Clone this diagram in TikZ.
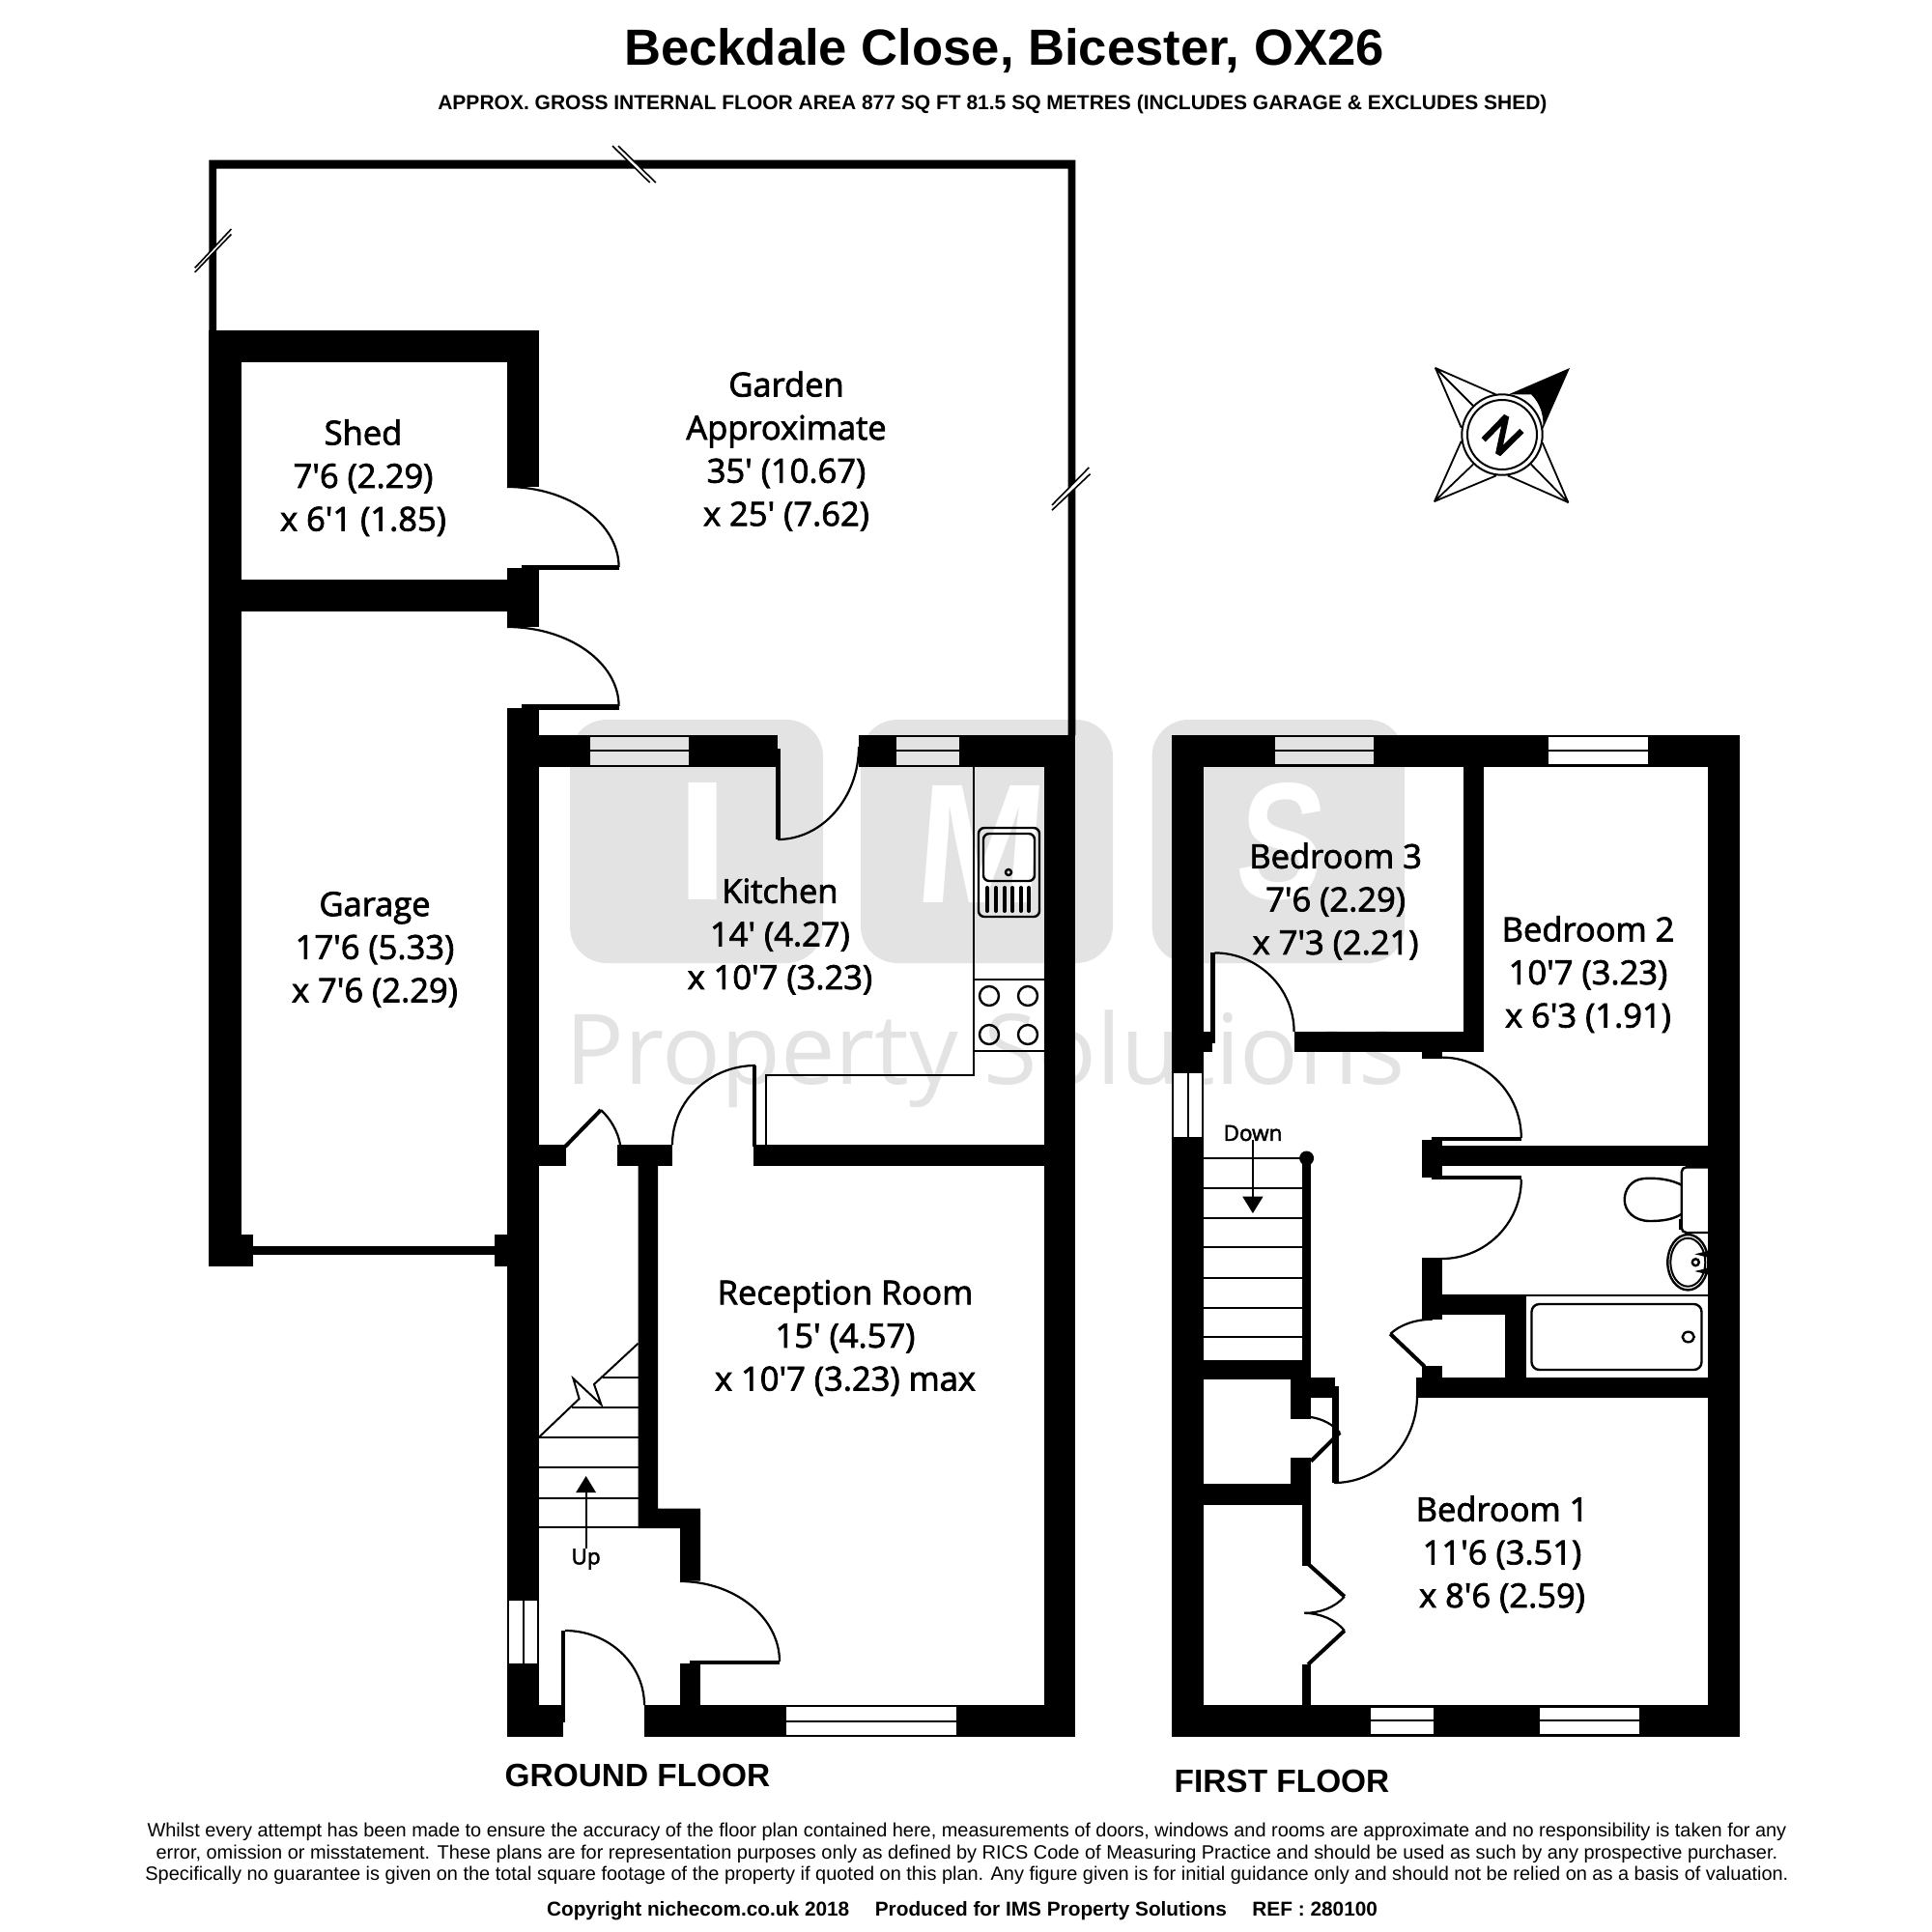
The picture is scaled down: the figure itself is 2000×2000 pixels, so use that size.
\documentclass[tikz,border=0pt]{standalone}
\usepackage{fontspec}
\setmainfont{Liberation Sans}
\newfontfamily\roomfont[FakeBold=2.2]{Open Sans}
\newfontfamily\markfont{Open Sans}
\newfontfamily\logoifont[FakeStretch=1.15]{Liberation Sans}
\newfontfamily\logomfont[FakeStretch=0.9,FakeSlant=0.08]{Liberation Sans}
\newfontfamily\logosfont[FakeStretch=0.78,FakeSlant=0.1]{Liberation Sans}
\newcommand{\swing}[4]{\draw[doorline] (#1,#2) .. controls (#1,{#2+0.55*(#4-#2)}) and ({#3+0.55*(#1-#3)},#4) .. (#3,#4);}
\definecolor{waterlogo}{HTML}{E3E3E3}
\tikzset{
    wall/.style={fill=black},
    doorline/.style={draw=black, line width=2.2pt},
    thinline/.style={draw=black, line width=2pt},
    unitline/.style={draw=black, line width=2.4pt},
    breakline/.style={draw=black, line width=1.6pt},
    compassline/.style={draw=black, line width=1.8pt, line join=round},
    roomlabel/.style={font=\roomfont\fontsize{34.5}{44.6}\selectfont, align=center, inner sep=0pt},
    smalllabel/.style={font=\roomfont\fontsize{22.5}{26}\selectfont, inner sep=0pt},
    floorlabel/.style={font=\bfseries\fontsize{33.4}{40}\selectfont, inner sep=0pt},
    logoblock/.style={fill=waterlogo, rounded corners=38pt},
    logoletter/.style={text=white, anchor=base, inner sep=0pt}
}
\begin{document}
\begin{tikzpicture}[x=1pt, y=-1pt]
    \useasboundingbox (0,0) rectangle (2000,2000);

    \fill[logoblock] (590,745) rectangle (852,997);
    \fill[logoblock] (891,745) rectangle (1152,997);
    \fill[logoblock] (1192.6,745) rectangle (1454,997);
    \node[logoletter, font=\logoifont\bfseries\fontsize{176}{176}\selectfont] (logoi) at (727.5,931) {I};
    \node[logoletter, font=\logomfont\bfseries\fontsize{176}{176}\selectfont] (logom) at (1011,934) {M};
    \node[logoletter, font=\logosfont\bfseries\fontsize{172}{172}\selectfont] (logos) at (1321,930) {S};
    \node[text=waterlogo, anchor=base west, inner sep=0pt, font=\markfont\fontsize{101}{101}\selectfont] (logotext) at (585,1122) {Property Solutions};

    \node[font=\bfseries\fontsize{52.6}{60}\selectfont, inner sep=0pt] (title) at (1039.5,52.5) {Beckdale Close, Bicester, OX26};
    \node[font=\bfseries\fontsize{21}{25}\selectfont, inner sep=0pt] (subtitle) at (1027.4,108) {APPROX. GROSS INTERNAL FLOOR AREA 877 SQ FT 81.5 SQ METRES (INCLUDES GARAGE \& EXCLUDES SHED)};

    \fill[wall] (216.4,165.7) -- (1113.3,165.7) -- (1113.3,761) -- (1105.5,761) -- (1105.5,174.6) -- (224.2,174.6) -- (224.2,342) -- (216.4,342) -- cycle;

    \fill[wall] (216.4,342) rectangle (557.6,374.6);
    \fill[wall] (216.4,342) rectangle (249.5,1311);
    \fill[wall] (525,374.6) rectangle (557.6,504);
    \fill[wall] (216.4,600) rectangle (525,633);
    \fill[wall] (525,587.6) rectangle (557.6,649);
    \fill[wall] (540,584.5) rectangle (640.6,590);
    \fill[wall] (540,729) rectangle (640.6,735);
    \swing{640.6}{587}{525}{504}
    \swing{640.6}{731}{525}{649}

    \fill[wall] (249,1277.7) rectangle (262.3,1311);
    \fill[wall] (262,1290) rectangle (513,1299.3);
    \fill[wall] (512.3,1277.7) rectangle (525,1311);

    \fill[wall] (525,733) rectangle (558,1798);
    \fill[wall] (558,761) rectangle (805,794);
    \fill[wall] (889,761) rectangle (1113.3,794);
    \fill[wall] (1080.5,761) rectangle (1113.3,1798);
    \fill[wall] (525,1765) rectangle (583,1798);
    \fill[wall] (667,1765) rectangle (1113.3,1798);
    \fill[wall] (558,1185) rectangle (586,1207);
    \fill[wall] (639,1185) rectangle (696,1207);
    \fill[wall] (780,1185) rectangle (1080.5,1207);
    \fill[wall] (660.6,1207) -- (681,1207) -- (681,1561.7) -- (725,1561.7) -- (725,1636.7) -- (704,1636.7) -- (704,1582) -- (660.6,1582) -- cycle;
    \fill[wall] (704,1721.7) rectangle (725,1765);

    \fill[wall] (803,775) rectangle (808,869);
    \swing{889}{773}{805}{869}
    \fill[wall] (779,1103) rectangle (783,1187);
    \swing{696}{1185}{782}{1103}
    \fill[wall] (713.7,1719) rectangle (807,1723);
    \swing{807}{1720}{704}{1637}
    \fill[wall] (581,1688) rectangle (585,1783);
    \swing{667}{1765}{585}{1688}
    \draw[line width=4pt, draw=black] (585,1187) -- (622,1149);
    \draw[doorline] (622,1149) .. controls (632,1158) and (640,1172) .. (642,1185);

    \draw[thinline] (1008,794) -- (1008,1112.7) -- (792.5,1112.7) -- (792.5,1185);
    \draw[thinline] (1008,1014) -- (1080.5,1014);
    \draw[thinline] (1008,1088) -- (1080.5,1088);
    \foreach \ringx in {1024,1064}
        \foreach \ringy in {1031,1071}
            \draw[unitline] (\ringx,\ringy) circle (10);
    \draw[unitline, rounded corners=6pt] (1013,857) rectangle (1076,949);
    \draw[unitline, rounded corners=6pt] (1018,863) rectangle (1071,912);
    \draw[unitline] (1044,903) circle (3);
    \foreach \barx in {1022,1031,1040,1048,1057,1065}
        \draw[line width=4pt, line cap=round] (\barx,919) -- (\barx,943);

    \foreach \xa/\ya/\xb/\yb/\ym/\pane in {611/762.7/713/791.7/777.3/waterlogo, 928/762.7/993/791.7/777.3/waterlogo, 814/1767/990/1796/1781.7/white} {
        \fill[\pane] (\xa,\ya) rectangle (\xb,\yb);
        \fill[black] (\xa,\ym-1) rectangle (\xb,\ym+1);
    }
    \fill[white] (527,1656.7) rectangle (556,1721.7);
    \fill[black] (540.5,1656.7) rectangle (542.5,1721.7);

    \foreach \stepy in {1488,1519,1551,1581}
        \draw[thinline] (558,\stepy) -- (660.6,\stepy);
    \draw[thinline] (592,1456.7) -- (660.6,1456.7);
    \draw[thinline] (624,1425.7) -- (660.6,1425.7);
    \draw[thinline] (558,1487.7) -- (599.6,1448) -- (593.4,1427) -- (622.4,1454) -- (615,1433) -- (660.6,1390.7);
    \draw[thinline] (606.6,1603) -- (606.6,1545);
    \fill[black] (606.6,1528) -- (617,1545) -- (596.2,1545) -- cycle;
    \node[smalllabel] (uplabel) at (606.6,1614) {Up};

    \fill[wall] (1212.7,760.7) rectangle (1801,794);
    \fill[wall] (1212.7,1765) rectangle (1801,1797.6);
    \fill[wall] (1212.7,760.7) rectangle (1246,1797.6);
    \fill[wall] (1767.8,760.7) rectangle (1801,1797.6);
    \foreach \xa/\ya/\xb/\yb/\ym/\pane in {1320/763/1422/791.4/777/waterlogo, 1603.3/763/1706/791.4/777/white, 1418.7/1767.8/1484/1795/1781/white, 1594.2/1767.8/1697/1795/1781/white} {
        \fill[\pane] (\xa,\ya) rectangle (\xb,\yb);
        \fill[black] (\xa,\ym-1) rectangle (\xb,\ym+1);
    }
    \fill[white] (1215,1111.4) rectangle (1243.5,1176.8);
    \fill[black] (1228.7,1111.4) rectangle (1230.7,1176.8);

    \fill[wall] (1515,794) rectangle (1536,1089.3);
    \fill[wall] (1339.6,1068) rectangle (1536,1089.3);
    \fill[wall] (1246,1068) rectangle (1255.4,1089.3);
    \fill[wall] (1472,1089) rectangle (1492.6,1095.7);
    \fill[wall] (1492.6,1185.7) rectangle (1767.8,1207);
    \fill[wall] (1472,1179.6) rectangle (1492.6,1218.6);
    \fill[wall] (1472,1302.4) rectangle (1492.6,1365.7);
    \fill[wall] (1492.6,1340) rectangle (1579.6,1360.8);
    \fill[wall] (1557.8,1340) rectangle (1579.6,1426);
    \fill[wall] (1472,1414) rectangle (1492.6,1426);
    \fill[wall] (1465.7,1426) rectangle (1767.8,1447);
    \fill[wall] (1246,1407.8) rectangle (1357,1427.8);
    \fill[wall] (1336.4,1427.8) rectangle (1357,1468.6);
    \fill[wall] (1348.3,1199) rectangle (1357,1427.8);
    \fill[wall] (1357,1426) rectangle (1382,1447.3);
    \fill[wall] (1336.4,1508.6) rectangle (1357,1536.3);
    \fill[wall] (1246,1536.3) rectangle (1357,1557.6);
    \fill[wall] (1348.3,1557.6) rectangle (1357,1620.8);
    \fill[wall] (1348.3,1723) rectangle (1357,1765);

    \fill[wall] (1253.4,986.4) rectangle (1258,1080);
    \swing{1339.6}{1068}{1257.3}{986.4}
    \fill[wall] (1481.5,1176.8) rectangle (1574.8,1181.4);
    \swing{1574.8}{1178}{1492.6}{1094.6}
    \fill[wall] (1481.5,1217) rectangle (1574.8,1221.4);
    \swing{1574.8}{1221}{1492.6}{1303}
    \fill[wall] (1379,1435) rectangle (1385.8,1535);
    \swing{1467}{1445}{1381}{1535}

    \draw[line width=4pt] (1474.8,1414.7) -- (1439.2,1380.8);
    \draw[doorline] (1439.2,1380.8) .. controls (1450,1371) and (1465,1366) .. (1482.7,1365.7);
    \draw[doorline] (1357,1467) .. controls (1370,1469) and (1380,1475) .. (1387,1482.9);
    \draw[line width=4pt] (1387,1482.9) -- (1357,1512.7);
    \draw[line width=4pt] (1354,1618.8) -- (1391.8,1652.7);
    \draw[doorline] (1391.8,1652.7) .. controls (1382,1664) and (1366,1670) .. (1350.3,1669.8);
    \draw[doorline] (1350.3,1669.8) .. controls (1366,1670) and (1382,1676) .. (1391.8,1688);
    \draw[line width=4pt] (1391.8,1688) -- (1354,1723);

    \foreach \stepy in {1199,1230,1261,1291,1323,1353.5,1384}
        \draw[thinline] (1246,\stepy) -- (1348.3,\stepy);
    \fill[black] (1352.6,1199) circle (7.5);
    \draw[thinline] (1296.9,1180) -- (1296.9,1239);
    \fill[black] (1296.9,1256) -- (1286.2,1238.6) -- (1307.6,1238.6) -- cycle;
    \node[smalllabel] (downlabel) at (1297,1173) {Down};

    \draw[thinline] (1579.6,1341) -- (1767.8,1341);
    \draw[unitline, rounded corners=8pt] (1585.5,1350) rectangle (1761.5,1418);
    \draw[unitline] (1747.7,1384) ellipse (6 and 5.3);
    \draw[unitline, rounded corners=5pt] (1767.8,1208.3) -- (1740.7,1208.3) -- (1740.7,1276) -- (1767.8,1276);
    \draw[unitline] (1740.7,1226.7) .. controls (1730,1221) and (1715,1219) .. (1702,1220) .. controls (1688,1221) and (1681.7,1232) .. (1681.7,1242) .. controls (1681.7,1254) and (1692,1264) .. (1708,1264) .. controls (1722,1264) and (1733,1262) .. (1740.7,1256.7);
    \draw[unitline] (1739,1262) -- (1739,1273);
    \begin{scope}
        \clip (1700,1270) rectangle (1767.8,1340);
        \draw[unitline] (1747.3,1306.7) ellipse (21 and 28.7);
        \draw[thinline] (1747.3,1306.7) ellipse (18 and 25);
    \end{scope}
    \draw[unitline] (1755.3,1306.7) circle (3.5);
    \fill[black] (1754.3,1298.3) -- (1767.8,1295) -- (1767.8,1301.5) -- cycle;
    \fill[black] (1754.3,1316) -- (1767.8,1312.7) -- (1767.8,1319.3) -- cycle;

    \fill[black] (1561.7,408.3) -- (1625,381) -- (1596.7,445) arc[start angle=10, end angle=-45, radius=41.7] -- cycle;
    \draw[thinline] (1555,450) circle (41.7);
    \draw[thinline] (1555,450) circle (36);
    \draw[compassline] (1548.3,408.3) -- (1486,381) -- (1525,420);
    \draw[compassline] (1486,381) -- (1512.7,442.7);
    \draw[compassline] (1512.7,456.7) -- (1485,519) -- (1525,480.7);
    \draw[compassline] (1485,519) -- (1549,492.3);
    \draw[compassline] (1596.7,458.3) -- (1623.3,520) -- (1585,480.7);
    \draw[compassline] (1623.3,520) -- (1560.7,492.3);
    \draw[line width=6pt, line join=bevel] (1535.7,455.3) -- (1559.3,431) -- (1551,470) -- (1575.3,446);

    \fill[white] (634,151) -- (640,151) -- (678.8,189) -- (672.7,189) -- cycle;
    \draw[breakline] (634,151) -- (672.7,189);
    \draw[breakline] (640,151) -- (678.8,189);
    \fill[white] (239.4,237.1) -- (239.4,242.5) -- (201.8,281.8) -- (201.8,277.3) -- cycle;
    \draw[breakline] (239.4,237.1) -- (201.8,277.3);
    \draw[breakline] (239.4,242.5) -- (201.8,281.8);
    \fill[white] (1127.3,484) -- (1128.5,490.7) -- (1089,528.2) -- (1089,522.9) -- cycle;
    \draw[breakline] (1127.3,484) -- (1089,522.9);
    \draw[breakline] (1128.5,490.7) -- (1089,528.2);

    \node[roomlabel] (garden) at (814,467) {Garden\\Approximate\\35' (10.67)\\x 25' (7.62)};
    \node[roomlabel] (shed) at (376,494.6) {Shed\\7'6 (2.29)\\x 6'1 (1.85)};
    \node[roomlabel] (garage) at (388,983) {Garage\\17'6 (5.33)\\x 7'6 (2.29)};
    \node[roomlabel] (kitchen) at (807.4,969) {Kitchen\\14' (4.27)\\x 10'7 (3.23)};
    \node[roomlabel] (reception) at (875,1385) {Reception Room\\15' (4.57)\\x 10'7 (3.23) max};
    \node[roomlabel] (bedthree) at (1382.6,933) {Bedroom 3\\7'6 (2.29)\\x 7'3 (2.21)};
    \node[roomlabel] (bedtwo) at (1644,1008.6) {Bedroom 2\\10'7 (3.23)\\x 6'3 (1.91)};
    \node[roomlabel] (bedone) at (1555,1609) {Bedroom 1\\11'6 (3.51)\\x 8'6 (2.59)};

    \node[floorlabel] (groundfloor) at (660,1838) {GROUND FLOOR};
    \node[floorlabel] (firstfloor) at (1327,1844.4) {FIRST FLOOR};

    \node[align=center, inner sep=0pt, font=\fontsize{19.94}{22.4}\selectfont] (disclaimer) at (1001,1919) {Whilst every attempt has been made to ensure the accuracy of the floor plan contained here, measurements of doors, windows and rooms are approximate and no responsibility is taken for any\\error, omission or misstatement. These plans are for representation purposes only as defined by RICS Code of Measuring Practice and should be used as such by any prospective purchaser.\\Specifically no guarantee is given on the total square footage of the property if quoted on this plan. Any figure given is for initial guidance only and should not be relied on as a basis of valuation.};
    \node[inner sep=0pt, font=\bfseries\fontsize{20.8}{24}\selectfont] (copyright) at (996,1978) {Copyright nichecom.co.uk 2018\quad\ Produced for IMS Property Solutions\quad\ REF : 280100};
\end{tikzpicture}
\end{document}
